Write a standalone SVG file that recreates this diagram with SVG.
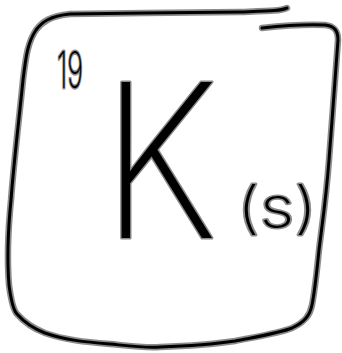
<svg xmlns="http://www.w3.org/2000/svg" width="342" height="353" viewBox="0 0 342 353">
<style>
.halo{fill:none;stroke:#8c8c8c;stroke-width:6.5;stroke-linecap:round;stroke-linejoin:round}
.core{fill:none;stroke:#000;stroke-width:3;stroke-linecap:round;stroke-linejoin:round}
.t{font-family:Inter,"DejaVu Sans",sans-serif;font-weight:150;fill:#000;stroke:#8c8c8c;stroke-width:3.2;paint-order:stroke;stroke-linejoin:round}
</style>
<defs>
<path id="b1" d="M287,8 C280,11 270,11 240,12 C200,13 120,13 70,14 C50,16 42,22 36,30 C28,42 26,55 23,80 C19,120 14,160 11,200 C8,230 7,260 9,285 C11,300 13,310 17,314 C24,322 32,328 45,333 C65,340 85,342 110,344 C130,346 145,348 160,347 C190,346 215,344 235,341 C255,337 280,333 292,328 C305,322 310,315 312,305 C315,290 317,270 319,250 C322,225 326,200 329,160 C332,120 336,70 338,40 C338,30 334,26 325,25 C305,24 280,26 262,28"/>
</defs>
<g id="frame">
<use href="#b1" class="halo"/>
<use href="#b1" class="core"/>
</g>
<g id="label-19"><text class="t" x="57" y="88" font-size="50" textLength="26" lengthAdjust="spacingAndGlyphs">19</text></g>
<g id="label-K"><text class="t" x="102" y="238" font-size="215" textLength="116" lengthAdjust="spacingAndGlyphs">K</text></g>
<g id="label-s"><text class="t" x="237" y="227" font-size="56" textLength="80" lengthAdjust="spacingAndGlyphs">(s)</text></g>
</svg>
